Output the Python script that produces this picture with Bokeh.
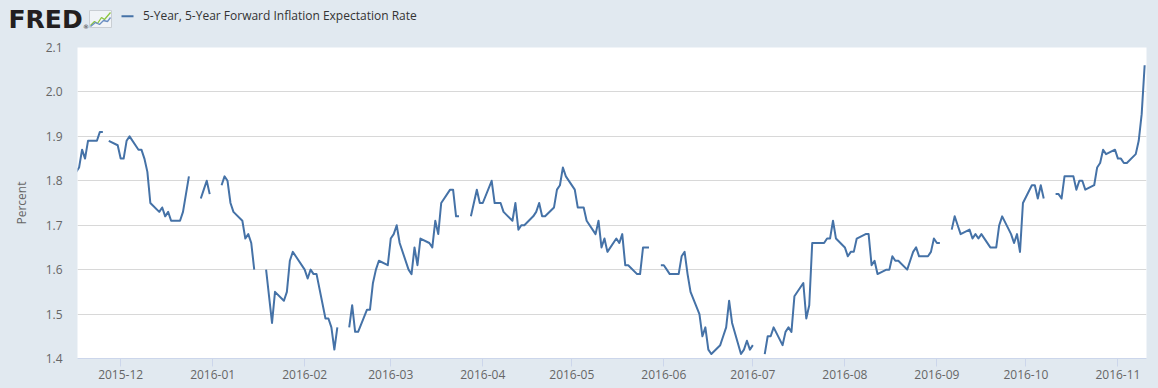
import pandas as pd
from bokeh.plotting import figure
from bokeh.layouts import column
from bokeh.models import (Range1d, FixedTicker, DatetimeTickFormatter, NumeralTickFormatter,
                          ColumnDataSource)
from bokeh.core.properties import value
from bokeh.embed import file_html
from bokeh.resources import INLINE

nan = float("nan")

# ---- data (business days, Mon..Fri per row; nan = market holiday) ----
start_date = "2015-11-16"
end_date = "2016-11-10"
rate = [
    1.82, 1.83, 1.87, 1.85, 1.89,   # 2015-11-16
    1.89, 1.91, 1.91, nan, 1.89,    # 2015-11-23
    1.88, 1.85, 1.85, 1.89, 1.90,   # 2015-11-30
    1.87, 1.87, 1.85, 1.82, 1.75,   # 2015-12-07
    1.73, 1.74, 1.72, 1.73, 1.71,   # 2015-12-14
    1.71, 1.73, 1.77, 1.81, nan,    # 2015-12-21
    1.76, 1.78, 1.80, 1.77, nan,    # 2015-12-28
    1.79, 1.81, 1.80, 1.75, 1.73,   # 2016-01-04
    1.71, 1.67, 1.68, 1.66, 1.60,   # 2016-01-11
    nan, 1.60, 1.54, 1.48, 1.55,    # 2016-01-18
    1.53, 1.55, 1.62, 1.64, 1.63,   # 2016-01-25
    1.60, 1.58, 1.60, 1.59, 1.59,   # 2016-02-01
    1.49, 1.49, 1.47, 1.42, 1.47,   # 2016-02-08
    nan, 1.47, 1.52, 1.46, 1.46,    # 2016-02-15
    1.51, 1.51, 1.57, 1.60, 1.62,   # 2016-02-22
    1.61, 1.67, 1.68, 1.70, 1.66,   # 2016-02-29
    1.60, 1.59, 1.65, 1.61, 1.67,   # 2016-03-07
    1.66, 1.65, 1.71, 1.68, 1.75,   # 2016-03-14
    1.78, 1.78, 1.72, 1.72, nan,    # 2016-03-21
    1.72, 1.75, 1.78, 1.75, 1.75,   # 2016-03-28
    1.80, 1.75, 1.75, 1.75, 1.73,   # 2016-04-04
    1.71, 1.75, 1.69, 1.70, 1.70,   # 2016-04-11
    1.72, 1.73, 1.75, 1.72, 1.72,   # 2016-04-18
    1.74, 1.78, 1.79, 1.83, 1.81,   # 2016-04-25
    1.78, 1.74, 1.74, 1.74, 1.71,   # 2016-05-02
    1.68, 1.71, 1.65, 1.67, 1.64,   # 2016-05-09
    1.67, 1.66, 1.68, 1.61, 1.61,   # 2016-05-16
    1.59, 1.59, 1.65, 1.65, 1.65,   # 2016-05-23
    nan, 1.61, 1.61, 1.60, 1.59,    # 2016-05-30
    1.59, 1.63, 1.64, 1.59, 1.55,   # 2016-06-06
    1.50, 1.45, 1.47, 1.42, 1.41,   # 2016-06-13
    1.43, 1.45, 1.47, 1.53, 1.48,   # 2016-06-20
    1.41, 1.42, 1.44, 1.42, 1.43,   # 2016-06-27
    nan, 1.41, 1.45, 1.45, 1.47,    # 2016-07-04
    1.43, 1.46, 1.47, 1.46, 1.54,   # 2016-07-11
    1.57, 1.49, 1.52, 1.66, 1.66,   # 2016-07-18
    1.66, 1.67, 1.67, 1.71, 1.67,   # 2016-07-25
    1.65, 1.63, 1.64, 1.64, 1.67,   # 2016-08-01
    1.68, 1.68, 1.61, 1.62, 1.59,   # 2016-08-08
    1.60, 1.60, 1.63, 1.62, 1.62,   # 2016-08-15
    1.60, 1.62, 1.64, 1.65, 1.63,   # 2016-08-22
    1.63, 1.64, 1.67, 1.66, 1.66,   # 2016-08-29
    nan, 1.69, 1.72, 1.70, 1.68,    # 2016-09-05
    1.69, 1.67, 1.68, 1.67, 1.68,   # 2016-09-12
    1.65, 1.65, 1.65, 1.70, 1.72,   # 2016-09-19
    1.68, 1.66, 1.68, 1.64, 1.75,   # 2016-09-26
    1.79, 1.79, 1.76, 1.79, 1.76,   # 2016-10-03
    nan, 1.77, 1.77, 1.76, 1.81,    # 2016-10-10
    1.81, 1.78, 1.80, 1.80, 1.78,   # 2016-10-17
    1.79, 1.83, 1.84, 1.87, 1.86,   # 2016-10-24
    1.87, 1.85, 1.85, 1.84, 1.84,   # 2016-10-31
    1.86, 1.89, 1.95, 2.06,         # 2016-11-07
]
y_ticks = [1.4, 1.5, 1.6, 1.7, 1.8, 1.9, 2.0, 2.1]
month_ticks = ["2015-12-01", "2016-01-01", "2016-02-01", "2016-03-01", "2016-04-01",
               "2016-05-01", "2016-06-01", "2016-07-01", "2016-08-01", "2016-09-01",
               "2016-10-01", "2016-11-01"]
series_name = "5-Year, 5-Year Forward Inflation Expectation Rate"
y_title = "Percent"
logo_text = "FRED"

dates = pd.bdate_range(start_date, end_date)
assert len(dates) == len(rate), (len(dates), len(rate))
src = ColumnDataSource(dict(date=dates, rate=rate))

BG = "#e1e9f0"
LINE = "#4572a7"
W = 1158
HEAD_H = 40

# ---------------- header strip (logo + legend) ----------------
h = figure(width=W, height=HEAD_H, output_backend="svg", toolbar_location=None,
           x_range=Range1d(0, W), y_range=Range1d(HEAD_H, 0),
           x_axis_location=None, y_axis_location=None,
           min_border_left=0, min_border_right=0, min_border_top=0, min_border_bottom=0,
           background_fill_color=BG, border_fill_color=BG, outline_line_color=None)
h.frame_align = False
h.xgrid.grid_line_color = None
h.ygrid.grid_line_color = None
h.text(x=[8], y=[18.5], text=[logo_text], text_font=value("DejaVu Sans"),
       text_font_style="bold", text_font_size="25px", text_color="#231f20",
       text_baseline="alphabetic")
h.text(x=[82.5], y=[25.5], text=["®"], text_font=value("DejaVu Sans"),
       text_font_size="6px", text_color="#231f20", text_baseline="alphabetic")
# small chart icon
h.quad(left=[89], right=[111], top=[10], bottom=[27], fill_color="#f1f4f7",
       line_color="#c9ced3", line_width=1)
h.line(x=[90, 94, 97, 101, 104, 110], y=[25, 21, 23, 17, 19, 12],
       line_color="#8dc63f", line_width=1.3)
h.line(x=[90, 95, 99, 103, 107, 110], y=[26, 22, 24, 20, 21, 17],
       line_color="#6b8fc2", line_width=1.3)
# legend
h.segment(x0=[121], y0=[15.7], x1=[133], y1=[15.7], line_color=LINE, line_width=2)
h.text(x=[142.5], y=[15.0], text=[series_name], text_font=value("Open Sans"),
       text_font_size="12px", text_color="#333333", text_baseline="alphabetic")

# ---------------- main chart ----------------
p = figure(width=W, height=388 - HEAD_H, output_backend="svg", toolbar_location=None,
           x_axis_type="datetime",
           x_range=Range1d(pd.Timestamp("2015-11-16 11:00").to_pydatetime(),
                           pd.Timestamp("2016-11-10 15:00").to_pydatetime()),
           y_range=Range1d(1.4, 2.1),
           min_border_left=77, min_border_right=12, min_border_top=7, min_border_bottom=30,
           background_fill_color="white", border_fill_color=BG, outline_line_color=None)
p.frame_align = False

p.line(x="date", y="rate", source=src, line_color=LINE, line_width=2, line_join="round")

xt = [pd.Timestamp(t).value // 10**6 for t in month_ticks]
p.xaxis.ticker = FixedTicker(ticks=xt)
p.xaxis.formatter = DatetimeTickFormatter(days="%Y-%m", months="%Y-%m", years="%Y-%m",
                                          hours="%Y-%m", minutes="%Y-%m")
p.xaxis.axis_line_color = "#ccd6eb"
p.xaxis.major_tick_line_color = "#ccd6eb"
p.xaxis.major_tick_out = 8
p.xaxis.major_tick_in = 0
p.xaxis.minor_tick_line_color = None
p.xaxis.major_label_standoff = 3
p.xaxis.major_label_text_font = "Open Sans"
p.xaxis.major_label_text_font_size = "12px"
p.xaxis.major_label_text_color = "#666666"
p.xgrid.grid_line_color = None

p.yaxis.ticker = FixedTicker(ticks=y_ticks)
p.yaxis.formatter = NumeralTickFormatter(format="0.0")
p.yaxis.axis_line_color = None
p.yaxis.major_tick_line_color = None
p.yaxis.minor_tick_line_color = None
p.yaxis.major_tick_out = 0
p.yaxis.major_tick_in = 0
p.yaxis.major_label_standoff = 15
p.yaxis.major_label_text_font = "Open Sans"
p.yaxis.major_label_text_font_size = "12px"
p.yaxis.major_label_text_color = "#666666"
p.yaxis.axis_label = y_title
p.yaxis.axis_label_text_font = "Open Sans"
p.yaxis.axis_label_text_font_size = "12px"
p.yaxis.axis_label_text_font_style = "normal"
p.yaxis.axis_label_text_color = "#666666"
p.yaxis.axis_label_standoff = 13
p.ygrid.ticker = FixedTicker(ticks=y_ticks)
p.ygrid.grid_line_color = "#d8d8d8"

layout = column(h, p, spacing=0)

TEMPLATE = """{% block preamble %}<style>html, body { margin: 0 !important; padding: 0 !important; background: #e1e9f0; overflow: hidden; }</style>{% endblock %}"""

open("out.html", "w").write(file_html(layout, INLINE, template=TEMPLATE))
